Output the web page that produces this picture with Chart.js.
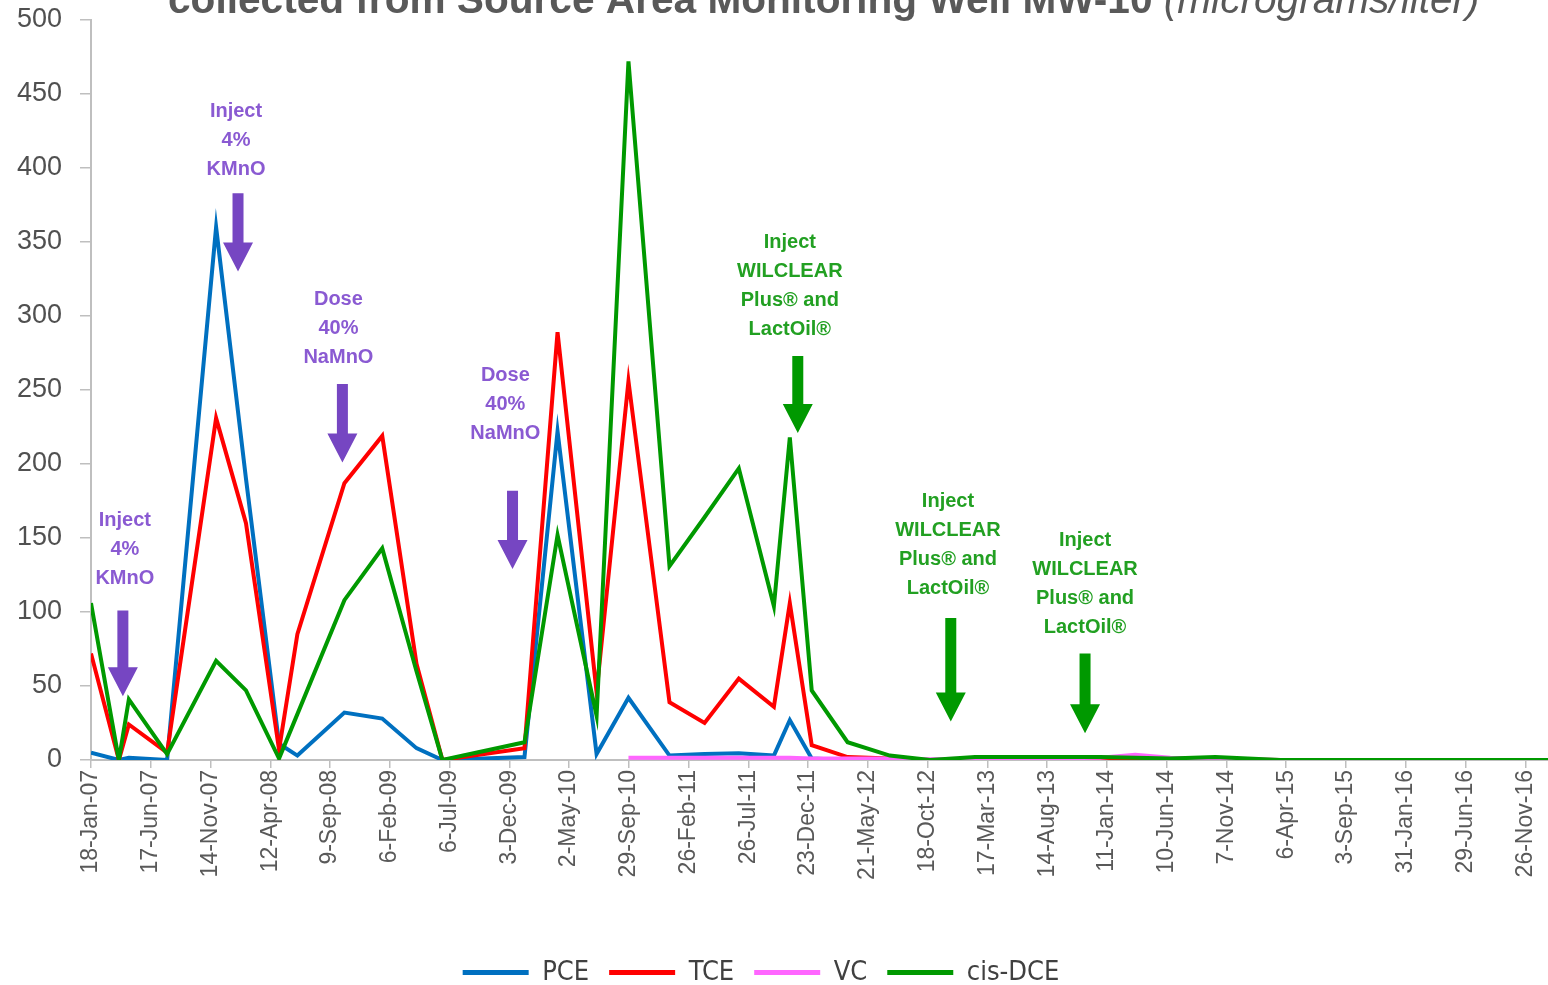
<!DOCTYPE html>
<html lang="en">
<head>
    <meta charset="UTF-8">
    <title>Source Area Monitoring Well MW-10</title>
    <style>
        html, body { margin: 0; padding: 0; background: #fff; }
        #wrap { width: 1548px; height: 985px; }
    </style>
</head>
<body>
<div id="wrap"><canvas id="chart" width="1548" height="985"></canvas></div>
<script src="https://cdn.jsdelivr.net/npm/chart.js"></script>
<script>
    // sampling dates and concentrations (micrograms/liter)
    const sampleDates = [
        '2007-01-18', '2007-03-29', '2007-04-23', '2007-07-28', '2007-11-28', '2008-02-11',
        '2008-05-04', '2008-06-19', '2008-10-15', '2009-01-18', '2009-04-14', '2009-06-18',
        '2010-01-10', '2010-04-03', '2010-07-10', '2010-09-28', '2011-01-09', '2011-04-07',
        '2011-07-02', '2011-09-28', '2011-11-07', '2012-01-01', '2012-03-31', '2012-07-15',
        '2012-10-24', '2013-02-14', '2013-07-27', '2013-12-25', '2014-03-23', '2014-06-19',
        '2014-10-10', '2015-03-22', '2017-01-22'
    ];
    const pce    = [5, 0, 1.5, 0, 360, 190, 11, 3, 32, 28, 8, 0, 2, 222, 4, 42, 3, 4, 4.5, 3, 27, 1, 0, 0, 0, 0, 0, 0, 0, 0, 0, 0, 0];
    const tce    = [72, 0, 24, 5, 231, 160, 7, 85, 187, 219, 65, 0, 8, 289, 46, 256, 39, 25, 55, 36, 106, 10, 2, 1, 0, 0, 0, 0, 0.5, 0, 0.5, 0, 0];
    const vc     = [null, null, null, null, null, null, null, null, null, null, null, null, null, null, null, 1.5, 1.5, 1.5, 1.5, 1.5, 1.5, 1, 1, 1, 0.5, 1, 1, 1.5, 3.5, 1.5, 1, 0, 0];
    const cisDce = [106, 0, 41, 4, 67, 47, 1, 31, 108, 143, 60, 0, 12, 152, 30, 472, 131, 164, 197, 104, 218, 47, 12, 3, 0, 2, 2, 2, 1.5, 1, 2, 0, 0];

    const startDate = '2007-01-18';
    const endDate = '2017-01-22';
    const tickStepDays = 150;
    const months = ['Jan', 'Feb', 'Mar', 'Apr', 'May', 'Jun', 'Jul', 'Aug', 'Sep', 'Oct', 'Nov', 'Dec'];

    // treatment events
    const notes = [
        { lines: ['Inject', '4%', 'KMnO'], color: '#8A5AD2', arrow: '#7646C2', textDate: '2007-04-13', textVal: 162, arrowDate: '2007-04-08', top: 101, tip: 43 },
        { lines: ['Inject', '4%', 'KMnO'], color: '#8A5AD2', arrow: '#7646C2', textDate: '2008-01-17', textVal: 438, arrowDate: '2008-01-22', top: 383, tip: 330 },
        { lines: ['Dose', '40%', 'NaMnO'], color: '#8A5AD2', arrow: '#7646C2', textDate: '2008-09-30', textVal: 311, arrowDate: '2008-10-10', top: 254, tip: 201 },
        { lines: ['Dose', '40%', 'NaMnO'], color: '#8A5AD2', arrow: '#7646C2', textDate: '2009-11-23', textVal: 260, arrowDate: '2009-12-11', top: 182, tip: 129 },
        { lines: ['Inject', 'WILCLEAR', 'Plus\u00AE and', 'LactOil\u00AE'], color: '#22A022', arrow: '#009900', textDate: '2011-11-07', textVal: 350, arrowDate: '2011-11-27', top: 273, tip: 221 },
        { lines: ['Inject', 'WILCLEAR', 'Plus\u00AE and', 'LactOil\u00AE'], color: '#22A022', arrow: '#009900', textDate: '2012-12-08', textVal: 175, arrowDate: '2012-12-15', top: 96, tip: 26 },
        { lines: ['Inject', 'WILCLEAR', 'Plus\u00AE and', 'LactOil\u00AE'], color: '#22A022', arrow: '#009900', textDate: '2013-11-17', textVal: 148, arrowDate: '2013-11-17', top: 72, tip: 18 }
    ];

    function dayOf(s) {
        return (Date.parse(s) - Date.parse(startDate)) / 86400000;
    }

    function fmtDay(v) {
        const d = new Date(Date.parse(startDate) + v * 86400000);
        return d.getUTCDate() + '-' + months[d.getUTCMonth()] + '-' + String(d.getUTCFullYear()).slice(2);
    }

    function series(values) {
        return sampleDates.map((s, i) => ({ x: dayOf(s), y: values[i] }));
    }

    const titlePlugin = {
        id: 'cutTitle',
        afterDraw(chart) {
            const ctx = chart.ctx;
            const part1 = 'collected from Source Area Monitoring Well MW-10 ';
            const part2 = '(micrograms/liter)';
            let size = 32;
            ctx.save();
            ctx.font = 'bold ' + size + 'px "Liberation Sans", Arial, sans-serif';
            let w = ctx.measureText(part1).width;
            ctx.font = 'italic ' + size + 'px "Liberation Sans", Arial, sans-serif';
            w += ctx.measureText(part2).width;
            size = size * 1312 / w;
            ctx.fillStyle = '#595959';
            ctx.textBaseline = 'alphabetic';
            ctx.font = 'bold ' + size + 'px "Liberation Sans", Arial, sans-serif';
            ctx.fillText(part1, 168, 13);
            const w1 = ctx.measureText(part1).width;
            ctx.font = 'italic ' + size + 'px "Liberation Sans", Arial, sans-serif';
            ctx.fillText(part2, 168 + w1, 13);
            ctx.restore();
        }
    };

    // nudge the legend to where it sits in the original
    const legendShift = {
        id: 'legendShift',
        afterLayout(chart) {
            const lg = chart.legend;
            lg.left -= 13; lg.right -= 13;
            lg.top += 11; lg.bottom += 11;
        }
    };

    const notesPlugin = {
        id: 'notes',
        afterDatasetsDraw(chart) {
            const ctx = chart.ctx;
            const xs = chart.scales.x;
            const ys = chart.scales.y;
            ctx.save();
            notes.forEach(n => {
                ctx.fillStyle = n.color;
                ctx.font = 'bold 20px "Liberation Sans", Arial, sans-serif';
                ctx.textAlign = 'center';
                ctx.textBaseline = 'middle';
                const tx = xs.getPixelForValue(dayOf(n.textDate));
                const ty = ys.getPixelForValue(n.textVal);
                n.lines.forEach((line, i) => ctx.fillText(line, tx, ty + i * 29));

                const ax = xs.getPixelForValue(dayOf(n.arrowDate));
                const top = ys.getPixelForValue(n.top);
                const tip = ys.getPixelForValue(n.tip);
                const headLen = 29, headHalf = 15, shaftHalf = 5.5;
                ctx.fillStyle = n.arrow;
                ctx.beginPath();
                ctx.moveTo(ax - shaftHalf, top);
                ctx.lineTo(ax + shaftHalf, top);
                ctx.lineTo(ax + shaftHalf, tip - headLen);
                ctx.lineTo(ax + headHalf, tip - headLen);
                ctx.lineTo(ax, tip);
                ctx.lineTo(ax - headHalf, tip - headLen);
                ctx.lineTo(ax - shaftHalf, tip - headLen);
                ctx.closePath();
                ctx.fill();
            });
            ctx.restore();
        }
    };

    const ctx = document.getElementById('chart').getContext('2d');
    new Chart(ctx, {
        type: 'line',
        data: {
            datasets: [
                { label: 'PCE', data: series(pce), borderColor: '#0070C0', backgroundColor: '#0070C0', order: 4 },
                { label: 'TCE', data: series(tce), borderColor: '#FF0000', backgroundColor: '#FF0000', order: 3 },
                { label: 'VC', data: series(vc), borderColor: '#FF66FF', backgroundColor: '#FF66FF', order: 2 },
                { label: 'cis-DCE', data: series(cisDce), borderColor: '#009900', backgroundColor: '#009900', order: 1 }
            ]
        },
        options: {
            responsive: false,
            animation: false,
            layout: { padding: { top: 20, left: 0, right: 0, bottom: 0 } },
            elements: {
                line: { borderWidth: 4, tension: 0, fill: false },
                point: { radius: 0, hoverRadius: 0, pointStyle: 'line' }
            },
            scales: {
                x: {
                    type: 'linear',
                    min: 0,
                    max: dayOf(endDate),
                    afterFit(scale) {
                        scale.height = 168;
                        scale.paddingLeft = 0;
                        scale.paddingRight = 0;
                    },
                    grid: { drawOnChartArea: false, tickLength: 8, color: '#BFBFBF', lineWidth: 1.5 },
                    border: { color: '#BFBFBF', width: 2 },
                    ticks: {
                        stepSize: tickStepDays,
                        includeBounds: false,
                        autoSkip: false,
                        maxRotation: 90,
                        minRotation: 90,
                        padding: 2,
                        color: '#595959',
                        font: { family: '"Liberation Sans", Arial, sans-serif', size: 23 },
                        callback: v => fmtDay(v)
                    }
                },
                y: {
                    min: 0,
                    max: 500,
                    afterFit(scale) {
                        scale.width = 91;
                        scale.paddingTop = 0;
                        scale.paddingBottom = 0;
                    },
                    grid: { drawOnChartArea: false, tickLength: 11, color: '#BFBFBF', lineWidth: 1.5 },
                    border: { color: '#BFBFBF', width: 2 },
                    ticks: {
                        stepSize: 50,
                        padding: 18,
                        color: '#505050',
                        font: { family: '"Liberation Sans", Arial, sans-serif', size: 27 }
                    }
                }
            },
            plugins: {
                title: { display: false },
                tooltip: { enabled: false },
                legend: {
                    position: 'bottom',
                    labels: {
                        usePointStyle: true,
                        pointStyleWidth: 66,
                        padding: 20,
                        color: '#404040',
                        font: { family: '"Liberation Sans Narrow", "DejaVu Sans Condensed", Arial, sans-serif', size: 27 },
                        sort: (a, b) => a.datasetIndex - b.datasetIndex,
                        generateLabels(chart) {
                            return Chart.defaults.plugins.legend.labels.generateLabels(chart).map(l => {
                                l.lineWidth = 5;
                                l.pointStyle = 'line';
                                return l;
                            });
                        }
                    }
                }
            }
        },
        plugins: [titlePlugin, notesPlugin, legendShift]
    });
</script>
</body>
</html>
